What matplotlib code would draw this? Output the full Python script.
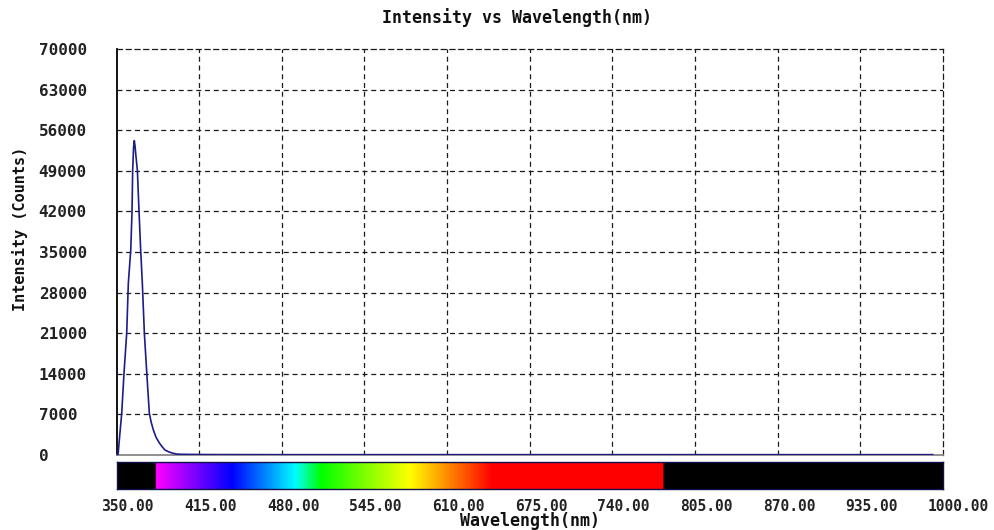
import numpy as np
import matplotlib
matplotlib.use('Agg')
import matplotlib.pyplot as plt
import matplotlib.transforms as mtransforms
from matplotlib.colors import LinearSegmentedColormap

# Spectrum (wavelength in nm, intensity in counts)
wavelength = [350.5, 351.2, 352.0, 354.1, 355.9, 358.0, 359.3, 361.2, 362.2, 362.7,
              363.4, 364.0, 364.6, 365.3, 366.4, 367.7, 369.0, 370.3, 371.9, 373.8,
              375.8, 377.2, 379.0, 381.0, 383.7, 386.0, 388.1, 391.0, 394.4, 397.6,
              402.0, 410.0, 420.0, 440.0, 480.0, 550.0, 650.0, 750.0, 850.0, 950.0, 992.0]
counts = [0, 0, 2070, 7240, 14140, 21000, 29650, 35350, 42000, 49100,
          53000, 54200, 53200, 51500, 49100, 42000, 35350, 29650, 21000, 14140,
          7240, 5700, 4300, 3100, 2070, 1400, 860, 550, 300, 150,
          120, 100, 80, 70, 60, 60, 60, 60, 60, 60, 60]

x_ticks = [350, 415, 480, 545, 610, 675, 740, 805, 870, 935, 1000]
y_ticks = [0, 7000, 14000, 21000, 28000, 35000, 42000, 49000, 56000, 63000, 70000]

# visible-spectrum colour stops for the strip under the plot
stop_nm = [350, 379.9, 380, 440, 490, 510, 580, 645, 780, 780.1, 1000]
stop_col = ['black', 'black', '#ff00ff', '#0000ff', '#00ffff', '#00ff00',
            '#ffff00', '#ff0000', '#ff0000', 'black', 'black']

mono = 'DejaVu Sans Mono'

fig = plt.figure(figsize=(9.95, 5.3), dpi=100)
ax = fig.add_axes([0.1171, 0.1415, 0.8306, 0.766])
bar = fig.add_axes([0.1171, 0.0774, 0.8306, 0.0505])

# main spectrum
ax.plot(wavelength, counts, color='#1c1c8a', linewidth=1.2, zorder=3)
ax.set_xlim(350, 1000)
ax.set_ylim(0, 70000)
ax.set_xticks(x_ticks)
ax.set_yticks(y_ticks)
ax.set_xticklabels([])
ax.set_yticklabels([str(v) for v in y_ticks], family=mono, weight='bold',
                   fontsize=11.5, ha='left', color='#222222')
ax.tick_params(axis='y', length=0, pad=56)
ax.tick_params(axis='x', length=0)
ax.grid(True, color='#1a1a1a', linestyle=(0, (4, 3)), linewidth=0.9)
ax.set_axisbelow(True)
# the edge grid lines sit on the spines, drop them
xgrid = ax.xaxis.get_gridlines()
xgrid[0].set_visible(False)
xgrid[-1].set_visible(False)
ax.yaxis.get_gridlines()[0].set_visible(False)
ax.yaxis.get_gridlines()[-1].set_visible(False)
ax.spines['left'].set_color('black')
ax.spines['left'].set_linewidth(1.3)
ax.spines['bottom'].set_color('#888888')
ax.spines['bottom'].set_linewidth(1.3)
for s in ['top', 'right']:
    ax.spines[s].set_color('#1a1a1a')
    ax.spines[s].set_linestyle((0, (4, 3)))
    ax.spines[s].set_linewidth(0.9)

# colour strip
cmap = LinearSegmentedColormap.from_list(
    'spec', [((n - 350) / 650, c) for n, c in zip(stop_nm, stop_col)], N=1024)
bar.imshow(np.linspace(350, 1000, 1300)[None, :], cmap=cmap, vmin=350, vmax=1000,
           extent=[350, 1000, 0, 1], aspect='auto')
bar.set_xlim(350, 1000)
bar.set_yticks([])
bar.set_xticks(x_ticks)
bar.set_xticklabels([f'{v:.2f}' for v in x_ticks], family=mono, weight='bold',
                    fontsize=10.5, ha='left', color='#222222')
bar.tick_params(axis='x', length=0, pad=7)
shift = mtransforms.ScaledTranslation(-15 / 100, 0, fig.dpi_scale_trans)
for lab in bar.get_xticklabels():
    lab.set_transform(lab.get_transform() + shift)
for s in bar.spines.values():
    s.set_color('#10104a')
    s.set_linewidth(1.0)

# texts
fig.text(517 / 995, 1 - 18 / 530, 'Intensity vs Wavelength(nm)', family=mono,
         weight='bold', fontsize=12, ha='center', va='center', color='#111111')
fig.text(530 / 995, 1 - 521 / 530, 'Wavelength(nm)', family=mono, weight='bold',
         fontsize=12, ha='center', va='center', color='#111111')
fig.text(20 / 995, 1 - 229 / 530, 'Intensity (Counts)', family=mono, weight='bold',
         fontsize=11, ha='center', va='center', rotation=90, color='#111111')

fig.savefig('out.png', dpi=100)
